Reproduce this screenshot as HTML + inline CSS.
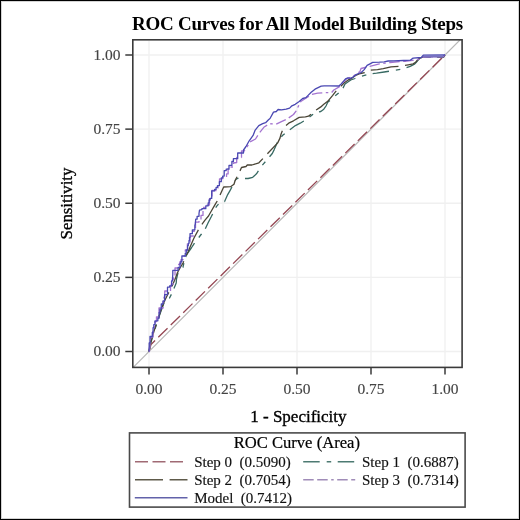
<!DOCTYPE html>
<html><head><meta charset="utf-8"><style>
html,body{margin:0;padding:0;background:#fff;}
svg{display:block;will-change:transform;}
text{font-family:"Liberation Serif",serif;}
</style></head><body>
<svg width="520" height="520" viewBox="0 0 520 520">
<rect x="0" y="0" width="520" height="520" fill="#fff"/>
<rect x="1.5" y="1.5" width="517" height="517" fill="none" stroke="#d4d4d4" stroke-width="1"/>
<rect x="0.5" y="0.5" width="519" height="519" fill="none" stroke="#000" stroke-width="1"/>
<text x="297.5" y="30.2" font-size="19" font-weight="bold" letter-spacing="-0.25" text-anchor="middle" fill="#000">ROC Curves for All Model Building Steps</text>
<g stroke="#f0f0f0" stroke-width="1.3" fill="none">
<line x1="149" y1="40.8" x2="149" y2="366.4"/>
<line x1="223" y1="40.8" x2="223" y2="366.4"/>
<line x1="297" y1="40.8" x2="297" y2="366.4"/>
<line x1="371" y1="40.8" x2="371" y2="366.4"/>
<line x1="445" y1="40.8" x2="445" y2="366.4"/>
<line x1="133.8" y1="351.5" x2="461.1" y2="351.5"/>
<line x1="133.8" y1="277.375" x2="461.1" y2="277.375"/>
<line x1="133.8" y1="203.25" x2="461.1" y2="203.25"/>
<line x1="133.8" y1="129.125" x2="461.1" y2="129.125"/>
<line x1="133.8" y1="55" x2="461.1" y2="55"/>
</g>
<defs><clipPath id="fc"><rect x="132.8" y="39.8" width="329.30" height="327.60"/></clipPath></defs>
<line x1="119" y1="381.55" x2="475" y2="24.95" stroke="#b8b8b8" stroke-width="1.2" clip-path="url(#fc)"/>
<g id="curves" fill="none" stroke-linejoin="round" stroke-width="1.3">
<path d="M149,351.5 L151,344.5 L445,55" stroke="#944652" stroke-dasharray="13 4.5"/>
<path d="M149,351.5 L150.5,344 L152.5,337 L155,329 L158,320 L161,311 L164,303 L166.5,300 L169.4,298.3 L172.3,292.5 L176.2,282.9 L176.5,279 L178.1,272.3 L182.9,267.5 L184.8,258.8 L187,254 L191.3,248 L194.5,243 L198,238.5 L201.5,234 L204.8,229.8 L208,223 L211.5,216.3 L214,211 L216.3,206.7 L219,203.5 L222.1,202 L224.6,201.5 L227.7,194.6 L230,190.6 L233.5,184.2 L235.8,179.5 L238,178.3 L241.9,178.5 L248.1,178.5 L252.7,177.3 L256.5,173.8 L261.2,166.5 L267.5,159.2 L272.3,153.5 L274.2,149.6 L277.1,142.9 L280,138.1 L283,135 L287.7,131.3 L291.5,128.5 L295.4,125.6 L300.2,123.2 L306.9,119.2 L311.5,115.4 L316.2,112.3 L320.8,111.5 L323.8,109.2 L326,106 L327.7,102.3 L334.4,96.5 L341.2,90.8 L343.1,87.9 L345,84 L350.8,80 L355,78.5 L359.4,76.8 L367.7,74.6 L369.8,73.8 L376.5,73.2 L384.2,72 L392.9,70.6 L403.5,68.7 L410.2,66.3 L413.1,64.8 L414.6,64.2 L416.5,62 L419,59 L423.3,57 L443.5,57 L445,55" stroke="#386a63" stroke-dasharray="16.5 7 4.5 6.5"/>
<path d="M149,351.5 L150.5,343 L152.5,336 L155,328 L158,319 L161,310 L164.5,301 L168,294 L170.5,289 L173,284 L175.5,278 L177.5,272.5 L180,268 L183,263 L186,256 L188,252 L190.4,246.2 L194,238 L200,226.9 L205,220.2 L208.5,216 L211.2,211.2 L214.6,205.4 L217.8,200 L222.3,190 L223.7,187 L230.6,186.7 L234,184.2 L235.2,180.2 L238.1,175 L241.5,167.5 L246,166.5 L247.3,165 L251.9,165 L258.9,162.8 L277.7,142.9 L280,138.1 L281,134.2 L282.9,129.4 L285.8,125.6 L288.7,123.2 L293.5,120.8 L299.2,117.4 L305.4,116.9 L308.5,116.2 L311.5,113.8 L316.2,110 L320.8,106.9 L323.8,104.2 L327.7,101.3 L332.5,95.6 L336.3,90.8 L340.2,86.9 L344,83.1 L347.9,80.2 L351.7,78.3 L355.6,75.4 L360.4,73.5 L365.2,72.5 L370.8,70.1 L377.5,69.6 L383.3,68.7 L391,66.8 L398.7,66.3 L403.5,65.8 L408.3,64.8 L413.1,63.9 L415.6,62.3 L417.5,60 L419.5,58.3 L423.3,57 L443.5,57 L445,55" stroke="#4a4536" stroke-dasharray="28 6.6"/>
<path d="M149,351.5 L149.47,351.5 L149.47,347.5 L150,347.5 L150,343 L150,340.23 L150.69,340.23 L150.69,337 L151.5,337 L153,337 L153,332 L153,327.59 L154.47,327.59 L154.47,326 L155,326 L155,321.58 L156.47,321.58 L156.47,317 L158,317 L158.99,317 L158.99,314.04 L158.99,308 L161,308 L163.12,308 L163.12,301.65 L163.12,299 L164,299 L164,297.26 L164.76,297.26 L164.76,291 L167.5,291 L170.5,291 L170.5,286 L171.31,286 L171.31,284.05 L173,284.05 L173,280 L173.59,280 L173.59,277.62 L175,277.62 L175,272 L175,268 L178,268 L178,264.51 L179.75,264.51 L179.75,262 L181,262 L181,259.58 L182.21,259.58 L184,259.58 L184,256 L185.28,256 L185.28,252.94 L185.28,250 L186.5,250 L187.39,250 L187.39,246.9 L187.39,243 L188.5,243 L190.07,243 L190.07,237.5 L190.5,237.5 L190.5,236 L193.5,236 L193.5,231 L195.5,231 L195.5,226 L195.5,222.1 L199,222.1 L199,220.19 L199.57,220.19 L201,220.19 L201,215.4 L203,215.4 L203,210 L203,207.5 L207,207.5 L207,205.1 L208.09,205.1 L209.5,205.1 L209.5,202 L209.5,198.59 L210.72,198.59 L212,198.59 L212,195 L212,190.5 L215,190.5 L218,190.5 L218,186.5 L219.5,186.5 L219.5,183.81 L219.5,178.8 L222.3,178.8 L222.3,177.9 L225.2,177.9 L226.54,177.9 L226.54,173.89 L228.1,173.89 L228.1,169.2 L228.1,167 L231,167 L233.5,167 L233.5,163 L236.7,162.5 L236.7,157.5 L238.5,157.5 L241.5,157.5 L241.5,154.8 L241.5,151 L244,151 L247,147 L250,142 L255.5,139 L258.5,134.2 L263.8,127.3 L269.4,123.7 L276.2,124.1 L281.4,121.7 L286.7,119.3 L293.5,114.5 L296.2,110.8 L299.2,104.6 L300.8,101.5 L305.4,98.5 L311.5,94.6 L317.7,93.1 L323.8,92.7 L331.5,92.7 L333.8,90 L339.2,86.9 L341.5,83.8 L346.9,78.5 L352.3,76.9 L360,71.5 L361,68.5 L365,67.5 L369.8,66.3 L379.4,63.9 L390,62.5 L405,61.3 L412.7,60.4 L418,59.5 L423.3,57 L443.5,56.5 L445,55" stroke="#a474d0" stroke-dasharray="10.5 3.5 10.5 3.5 2.5 3.5"/>
<path d="M423.3,56.8 L443.5,56.8" stroke="#7a70c0" stroke-width="1.6"/>
<path d="M149,351.5 L149.2,345.4 L149.2,342.96 L149.52,342.96 L150,342.96 L150,339.2 L150,336.5 L151.2,336.5 L152.3,336.5 L152.3,332.3 L153.07,332.3 L153.07,329.95 L153.07,327.7 L153.8,327.7 L153.8,324.6 L155,324.6 L155,320.8 L156.9,320.8 L157.86,320.8 L157.86,318.21 L159.05,318.21 L159.05,314.99 L159.05,312.7 L159.9,312.7 L159.9,309.12 L160.64,309.12 L161.27,309.12 L161.27,306.08 L161.27,304 L161.7,304 L163.05,304 L163.05,300.89 L164.6,300.89 L164.6,297.3 L164.6,294.68 L165.73,294.68 L167.5,294.68 L167.5,290.6 L167.5,287.06 L169.64,287.06 L169.64,285.8 L170.4,285.8 L171.59,285.8 L171.59,282.79 L171.59,281 L172.3,281 L172.8,274.2 L172.8,270.4 L175.2,270.4 L178.1,270.4 L178.1,267.5 L180,267.5 L180,263.7 L180.85,263.7 L180.85,261.52 L181.9,261.52 L181.9,258.8 L181.9,256 L184.3,256 L185.26,256 L185.26,253.13 L186.3,253.13 L186.3,250 L187.62,250 L187.62,245.59 L188.3,245.59 L188.3,243.3 L189.03,243.3 L189.03,240.38 L189.5,240.38 L189.5,238.5 L189.5,237.2 L190.02,237.2 L190.02,233.7 L191.4,233.7 L192.34,233.7 L192.34,232.29 L192.34,229.8 L194,229.8 L194.86,229.8 L194.86,226.37 L194.86,225 L195.2,225 L195.7,219.2 L197.1,219.2 L197.1,216.3 L199,216.3 L199,213.5 L199.5,210.1 L201.9,209.6 L201.9,208.7 L205.8,208.7 L205.8,205.8 L208.2,205.8 L208.2,202.9 L209.1,202.9 L209.1,200 L210.1,200 L210.1,198.4 L210.48,198.4 L211.7,198.4 L211.7,193.3 L211.7,190.83 L213.54,190.83 L214.6,190.83 L214.6,189.4 L216.09,189.4 L216.09,187.45 L217.5,187.45 L217.5,185.6 L219.4,185.6 L219.4,181.7 L221.3,181.7 L221.3,177.9 L222.67,177.9 L222.67,176.05 L224.2,176.05 L224.2,174 L224.2,170.55 L225.64,170.55 L226.2,170.55 L226.2,169.2 L229,169.2 L229,167.3 L229,165.4 L231.9,165.4 L231.9,161.5 L233.4,161.5 L233.4,158.7 L234.8,158.7 L237.7,158.7 L237.7,155.8 L237.7,153 L240.6,153 L243.5,153 L243.5,150 L246,146.5 L249.2,140.8 L253.1,135.4 L255,130.4 L258.8,125.6 L262.7,123.7 L265.6,122.7 L268.5,119.8 L270,118.5 L273.5,112.1 L276.3,111.5 L278.1,109.5 L281.5,109.8 L286.2,109.2 L289.6,108.1 L291.9,105.8 L295.2,104.3 L299.2,101.5 L302.7,98.5 L305.8,97.7 L308.1,95.4 L311.2,92.3 L315,89.2 L318.1,87.7 L321.2,86.2 L324.2,85.8 L329.6,85.8 L338.8,86 L341.2,84 L343.6,81.2 L345.5,78.8 L347.9,77.8 L350.3,78.3 L352.7,77.3 L355.6,74.9 L358.5,73.5 L361.3,72.5 L364.2,69.6 L367.1,65.3 L370,63.8 L372.7,62.4 L379.4,62.2 L384.2,61.8 L388.1,61 L393.8,60.8 L403.5,60.5 L410.2,60.2 L413.1,58.1 L421.3,57.5 L423.3,55.1 L445,55" stroke="#4a48b2"/>
</g>
<rect x="132.8" y="39.8" width="329.30" height="327.60" fill="none" stroke="#3a3a3a" stroke-width="1.6"/>
<g stroke="#3a3a3a" stroke-width="1.5">
<line x1="125.3" y1="351.5" x2="132.8" y2="351.5"/>
<line x1="125.3" y1="277.375" x2="132.8" y2="277.375"/>
<line x1="125.3" y1="203.25" x2="132.8" y2="203.25"/>
<line x1="125.3" y1="129.125" x2="132.8" y2="129.125"/>
<line x1="125.3" y1="55" x2="132.8" y2="55"/>
<line x1="149" y1="367.4" x2="149" y2="374.6"/>
<line x1="223" y1="367.4" x2="223" y2="374.6"/>
<line x1="297" y1="367.4" x2="297" y2="374.6"/>
<line x1="371" y1="367.4" x2="371" y2="374.6"/>
<line x1="445" y1="367.4" x2="445" y2="374.6"/>
</g>
<g font-size="15.5" fill="#444" stroke="#444" stroke-width="0.15" text-anchor="end">
<text x="120.5" y="356.40">0.00</text>
<text x="120.5" y="282.27">0.25</text>
<text x="120.5" y="208.15">0.50</text>
<text x="120.5" y="134.03">0.75</text>
<text x="120.5" y="59.90">1.00</text>
</g>
<g font-size="15.5" fill="#444" stroke="#444" stroke-width="0.15" text-anchor="middle">
<text x="149" y="393.8">0.00</text>
<text x="223" y="393.8">0.25</text>
<text x="297" y="393.8">0.50</text>
<text x="371" y="393.8">0.75</text>
<text x="445" y="393.8">1.00</text>
</g>
<text x="298.4" y="421.5" font-size="17" text-anchor="middle" fill="#000" stroke="#000" stroke-width="0.35">1 - Specificity</text>
<text transform="translate(71.8,203.5) rotate(-90)" x="0" y="0" font-size="16.8" text-anchor="middle" fill="#000" stroke="#000" stroke-width="0.35">Sensitivity</text>
<rect x="129.5" y="432.9" width="335.6" height="74.2" fill="none" stroke="#4a4a4a" stroke-width="1.6"/>
<text x="296.8" y="448.1" font-size="16.6" text-anchor="middle" fill="#000" stroke="#000" stroke-width="0.2">ROC Curve (Area)</text>
<g font-size="15" fill="#111" stroke="#111" stroke-width="0.15" style="white-space:pre">
<text x="194.2" y="467.2" xml:space="preserve">Step 0  (0.5090)</text>
<text x="194.2" y="485.4" xml:space="preserve">Step 2  (0.7054)</text>
<text x="194.2" y="503" xml:space="preserve">Model  (0.7412)</text>
<text x="362" y="467.2" xml:space="preserve">Step 1  (0.6887)</text>
<text x="362" y="485.4" xml:space="preserve">Step 3  (0.7314)</text>
</g>
<g fill="none" stroke-width="1.4">
<line x1="135" y1="461.8" x2="187.5" y2="461.8" stroke="#a06a74" stroke-dasharray="13 4.5"/>
<line x1="135" y1="479.8" x2="187.5" y2="479.8" stroke="#5e5a4a" stroke-dasharray="28 6.6"/>
<line x1="134.8" y1="497.8" x2="187.5" y2="497.8" stroke="#6262aa"/>
<line x1="303.2" y1="461.8" x2="355.2" y2="461.8" stroke="#4d7a72" stroke-dasharray="16.5 7 4.5 6.5"/>
<line x1="303.2" y1="479.8" x2="355.2" y2="479.8" stroke="#a08cb8" stroke-dasharray="10.5 3.5 10.5 3.5 2.5 3.5"/>
</g>
</svg>
</body></html>
